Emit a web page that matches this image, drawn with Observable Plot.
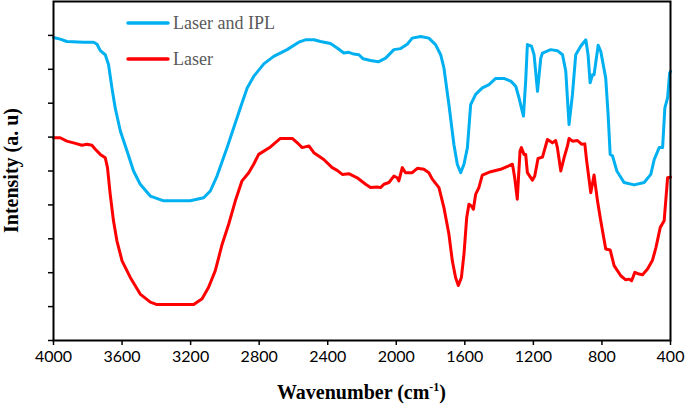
<!DOCTYPE html>
<html>
<head>
<meta charset="utf-8">
<script src="https://cdn.jsdelivr.net/npm/d3@7"></script>
<script src="https://cdn.jsdelivr.net/npm/@observablehq/plot@0.6"></script>
<style>
  html, body { margin: 0; padding: 0; background: #fff; }
  #chart { position: relative; width: 685px; height: 405px; }
</style>
</head>
<body>
<div id="chart"></div>
<script>
const seriesNames = ["Laser and IPL", "Laser"];
const seriesColors = ["#00B0F0", "#FF0000"];
const xTicks = [4000, 3600, 3200, 2800, 2400, 2000, 1600, 1200, 800, 400];
const yTicks = [0, 10, 20, 30, 40, 50, 60, 70, 80, 90];

const wnBlue = [4000,3961,3922,3825,3766,3746,3727,3698,3679,3659,3640,3610,3571,3533,3494,3435,3357,3202,3124,3085,3046,2987,2949,2910,2870,2832,2773,2715,2637,2569,2530,2481,2442,2384,2345,2306,2277,2248,2218,2193,2150,2105,2062,2014,1975,1936,1907,1858,1810,1771,1741,1722,1693,1664,1644,1624,1605,1585,1566,1537,1498,1459,1420,1372,1332,1303,1284,1258,1245,1235,1211,1196,1176,1157,1147,1099,1060,1030,1011,992,972,953,924,894,881,869,855,846,822,807,778,764,752,738,713,671,612,554,515,495,466,446,433,417,405,400];
const intBlue = [89.4,88.9,88.2,88.0,88.0,87.4,85.5,84.3,81.4,74.5,68.6,61.8,55.9,50.0,46.1,42.6,41.2,41.2,42.1,44.1,48.5,56.9,62.7,68.6,74.5,77.9,81.6,83.8,85.8,88.0,88.7,88.7,88.2,87.6,86.3,84.8,85.0,84.5,84.3,83.1,82.6,82.2,83.3,85.8,86.1,87.4,89.2,89.7,89.2,87.3,84.3,80.4,69.6,57.9,52.0,49.5,52.0,56.9,69.6,72.6,74.5,75.5,77.3,77.3,76.5,75.0,71.6,66.2,76.5,87.3,86.8,84.3,73.5,83.3,84.8,85.8,85.5,84.3,79.4,63.7,72.6,84.3,86.8,88.7,84.3,76.0,78.4,78.4,87.1,85.3,77.4,66.7,54.9,54.4,50.0,46.6,45.9,46.6,49.0,53.4,56.9,56.9,68.6,71.6,78.9,79.4];

const wnRed = [4000,3961,3922,3883,3834,3805,3776,3756,3727,3698,3685,3669,3650,3630,3600,3552,3494,3435,3396,3182,3133,3095,3056,3016,2978,2939,2900,2861,2832,2803,2734,2676,2607,2569,2549,2510,2481,2423,2374,2345,2315,2277,2228,2179,2150,2111,2092,2072,2043,2014,1994,1985,1965,1946,1907,1877,1839,1810,1790,1751,1722,1693,1673,1654,1638,1620,1605,1589,1576,1562,1550,1537,1518,1498,1449,1391,1322,1309,1294,1278,1270,1255,1245,1235,1206,1192,1173,1147,1118,1089,1070,1060,1040,1021,1001,992,972,943,919,900,889,865,846,826,807,778,752,729,690,661,641,627,608,583,563,534,505,485,460,437,417,402,400];
const intRed = [59.8,59.8,58.8,58.3,57.6,57.9,57.6,56.4,54.9,53.9,51.0,43.1,35.3,29.4,23.5,18.6,13.7,11.3,10.6,10.6,12.3,15.7,20.6,28.4,34.3,41.2,47.1,49.5,52.0,54.9,57.1,59.6,59.6,57.9,56.9,57.4,55.4,53.4,51.0,50.2,49.0,49.2,48.0,46.1,45.1,45.3,45.1,46.1,46.6,48.5,48.0,47.1,51.0,49.5,49.5,50.8,50.5,49.5,47.6,45.1,39.2,31.4,23.5,18.6,16.2,18.6,25.5,36.3,40.2,39.7,38.7,43.1,45.1,48.8,49.8,50.5,52.0,48.0,41.7,55.9,56.9,54.9,54.9,49.5,47.3,48.5,53.7,54.1,59.3,58.3,59.0,56.9,50.0,53.9,57.4,59.6,58.8,59.0,57.9,58.0,52.9,43.6,48.8,41.2,35.3,27.0,26.7,22.1,19.1,17.9,18.1,17.6,20.1,19.6,19.4,21.1,23.7,27.4,33.3,35.3,48.0,48.2,48.2];

const blue = wnBlue.map((w, i) => ({w, v: intBlue[i]}));
const red = wnRed.map((w, i) => ({w, v: intRed[i]}));

const W = 685, H = 405;
const mL = 53, mR = 15, mT = 1, mB = 65;

const plot = Plot.plot({
  width: W,
  height: H,
  marginLeft: mL,
  marginRight: mR,
  marginTop: mT,
  marginBottom: mB,
  style: {fontFamily: "Lato, 'Open Sans', sans-serif", fontSize: "16px", color: "black", background: "white", overflow: "visible"},
  x: {domain: [4000, 400], label: null},
  y: {domain: [0, 100], label: null},
  marks: [
    Plot.line(red, {x: "w", y: "v", stroke: seriesColors[1], strokeWidth: 3, strokeLinejoin: "round"}),
    Plot.line(blue, {x: "w", y: "v", stroke: seriesColors[0], strokeWidth: 3, strokeLinejoin: "round"}),
    Plot.axisX({ticks: xTicks, tickSize: 5, tickPadding: 5, tickFormat: d => String(d), strokeWidth: 1.5, fontSize: 16}),
    Plot.axisY({ticks: yTicks, tickSize: 5, tickFormat: () => "", strokeWidth: 1.5}),
    Plot.frame({stroke: "black", strokeWidth: 2})
  ]
});
document.getElementById("chart").appendChild(plot);

const svg = d3.select(plot);
// Legend
const leg = svg.append("g").attr("text-anchor", "start");
const legY = [23, 59];
seriesNames.forEach((name, i) => {
  leg.append("line")
    .attr("x1", 128).attr("x2", 168)
    .attr("y1", legY[i]).attr("y2", legY[i])
    .style("stroke", seriesColors[i]).style("stroke-width", "3.5px")
    .style("stroke-linecap", "round");
  leg.append("text")
    .attr("x", 173).attr("y", legY[i])
    .attr("dy", "0.33em")
    .attr("text-anchor", "start")
    .style("font-family", "'Liberation Serif', 'Times New Roman', serif")
    .style("font-size", "18px")
    .style("fill", "#595959")
    .text(name);
});

// Axis titles
const xt = svg.append("text")
  .attr("x", (mL + (W - mR)) / 2)
  .attr("y", 399)
  .attr("text-anchor", "middle")
  .style("font-family", "'Liberation Serif', 'Times New Roman', serif")
  .style("font-weight", "bold")
  .style("font-size", "20px")
  .style("fill", "black");
xt.append("tspan").text("Wavenumber (cm");
xt.append("tspan").style("font-size", "12px").attr("dy", -8).text("-1");
xt.append("tspan").attr("dy", 8).text(")");

svg.append("text")
  .attr("transform", `translate(18, ${(mT + (H - mB)) / 2}) rotate(-90)`)
  .attr("text-anchor", "middle")
  .style("font-family", "'Liberation Serif', 'Times New Roman', serif")
  .style("font-weight", "bold")
  .style("font-size", "20px")
  .style("fill", "black")
  .text("Intensity (a. u)");
</script>
</body>
</html>
